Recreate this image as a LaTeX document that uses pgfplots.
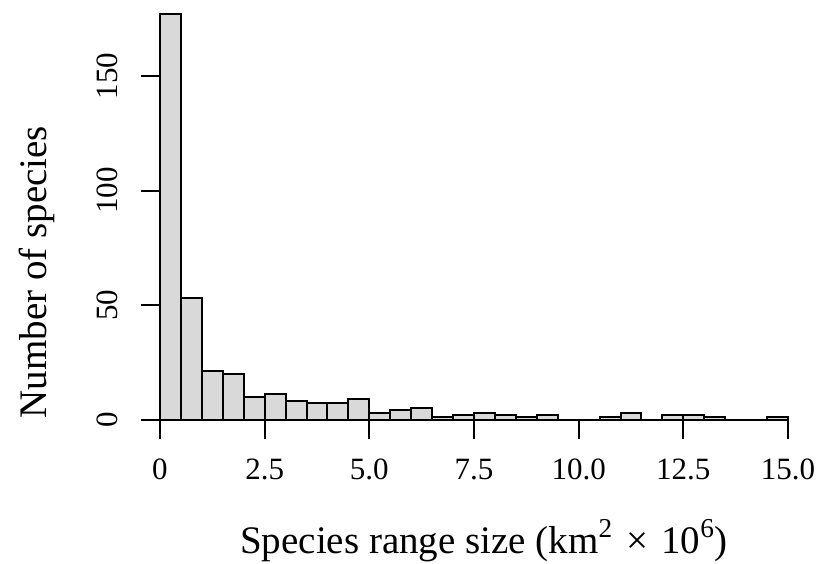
\documentclass[border=0pt]{standalone}
\usepackage{pgfplots}
\pgfplotsset{compat=1.18}
\usepackage{fontspec}
\setmainfont{Liberation Serif}
\definecolor{barfill}{RGB}{217,217,217}
\pgfplotstableread{
x y
0.0 177
0.5 53
1.0 21
1.5 20
2.0 10
2.5 11
3.0 8
3.5 7
4.0 7
4.5 9
5.0 3
5.5 4
6.0 5
6.5 1
7.0 2
7.5 3
8.0 2
8.5 1
9.0 2
9.5 0
10.0 0
10.5 1
11.0 3
11.5 0
12.0 2
12.5 2
13.0 1
13.5 0
14.0 0
14.5 1
15.0 0
}\hist
\begin{document}
\begin{tikzpicture}
\begin{axis}[
  at={(0,0)}, anchor=origin,
  scale only axis,
  width=314pt, height=209.75pt,
  xmin=0, xmax=15, ymin=0, ymax=183.3,
  axis line style={draw=none},
  xtick={0,2.5,5,7.5,10,12.5,15},
  xticklabels={0,2.5,5.0,7.5,10.0,12.5,15.0},
  ytick={0,50,100,150},
  yticklabels={0,50,100,150},
  xtick pos=bottom, ytick pos=left,
  tick align=outside,
  major tick length=9.5pt,
  every tick/.style={black, line width=1pt},
  xticklabel shift=20.25pt,
  yticklabel shift=11.5pt,
  xticklabel style={anchor=base, inner sep=0pt, font=\fontsize{15.5}{18}\selectfont},
  yticklabel style={rotate=90, anchor=base, inner sep=0pt, font=\fontsize{15.5}{18}\selectfont},
  xlabel={Species range size (km\textsuperscript{2}\,\,×\,\,10\textsuperscript{6})},
  ylabel={Number of species},
  xlabel style={at={(axis description cs:0.516,0)}, anchor=base, yshift=-66.75pt, inner sep=0pt, font=\fontsize{19.5}{22}\selectfont},
  ylabel style={at={(axis description cs:-0.1815,0.3516)}, anchor=base, inner sep=0pt, font=\fontsize{19.5}{22}\selectfont},
  clip=false,
]
\addplot[ybar interval, fill=barfill, draw=black, line width=1pt] table[x=x, y=y] {\hist};
\draw[line width=1pt] (axis cs:0,0) -- (axis cs:15,0);
\draw[line width=1pt] (axis cs:0,0) -- (axis cs:0,150);
\end{axis}
\pgfresetboundingbox
\path (-80pt,-71.75pt) rectangle (329.5pt,209.75pt);
\end{tikzpicture}
\end{document}
